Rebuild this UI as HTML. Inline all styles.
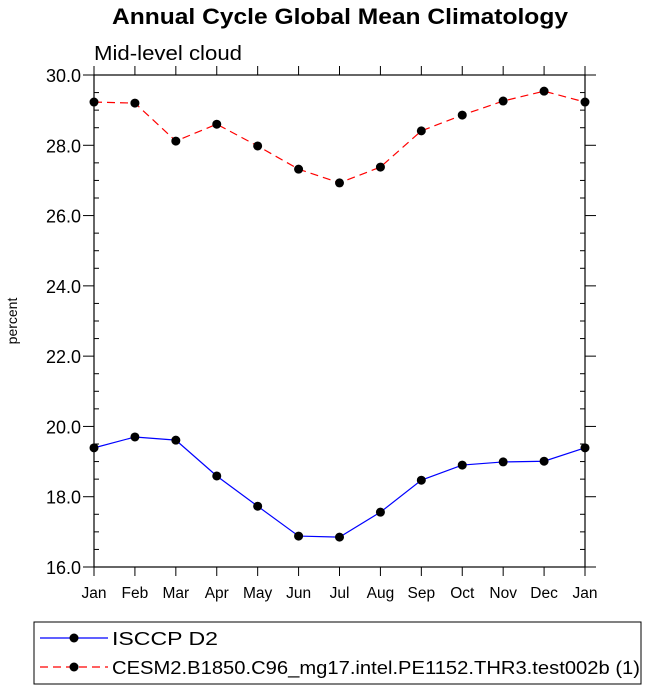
<!DOCTYPE html>
<html><head><meta charset="utf-8"><style>
body{margin:0;background:#fff;}
text{font-family:"Liberation Sans",sans-serif;}
</style></head><body>
<svg id="c" width="648" height="694" xmlns="http://www.w3.org/2000/svg">
<text x="112" y="24" textLength="456" lengthAdjust="spacingAndGlyphs" font-size="22" font-weight="bold">Annual Cycle Global Mean Climatology</text>
<text x="94" y="60" textLength="148" lengthAdjust="spacingAndGlyphs" font-size="20">Mid-level cloud</text>
<text transform="translate(17,321) rotate(-90)" text-anchor="middle" font-size="14">percent</text>
<g id="axes"></g><g id="series"></g>
<rect x="34" y="622" width="607" height="62" fill="none" stroke="#000" stroke-width="1"/>
<g>
<line x1="40" y1="638" x2="108" y2="638" stroke="#0000ff" stroke-width="1.2"/>
<circle cx="74" cy="638" r="4.5" fill="#000"/>
<text x="112" y="645" textLength="106" lengthAdjust="spacingAndGlyphs" font-size="18">ISCCP D2</text></g>
<g>
<line x1="40" y1="667" x2="108" y2="667" stroke="#ff0000" stroke-width="1.2" stroke-dasharray="8,5"/>
<circle cx="74" cy="667" r="4.5" fill="#000"/>
<text x="112" y="674" textLength="528" lengthAdjust="spacingAndGlyphs" font-size="18">CESM2.B1850.C96_mg17.intel.PE1152.THR3.test002b (1)</text></g>
</svg>
<script>
const months=["Jan","Feb","Mar","Apr","May","Jun","Jul","Aug","Sep","Oct","Nov","Dec","Jan"];
const isccp=[19.39,19.70,19.61,18.59,17.73,16.88,16.85,17.56,18.47,18.90,18.99,19.01,19.39];
const cesm=[29.23,29.20,28.12,28.60,27.98,27.32,26.93,27.38,28.41,28.86,29.26,29.54,29.23];
const yTicks=[16,18,20,22,24,26,28,30];
const L=94,R=585,T=75,B=567,ymin=16,ymax=30;
const xs=i=>L+(R-L)*i/12, ys=v=>B-(B-T)*(v-ymin)/(ymax-ymin);
const NS="http://www.w3.org/2000/svg";
function mk(t,a,p){const e=document.createElementNS(NS,t);for(const k in a)e.setAttribute(k,a[k]);p.appendChild(e);return e;}
const ax=document.getElementById('axes'), se=document.getElementById('series');
const fr=mk('rect',{x:L,y:T,width:R-L,height:B-T,fill:'none',stroke:'#000','stroke-width':1.2},ax);


for(let v=ymin;v<=ymax+1e-9;v+=0.5){const y=ys(v);const maj=Math.abs(v/2-Math.round(v/2))<1e-6;
 if(maj){mk('line',{x1:L-11,y1:y,x2:L,y2:y,stroke:'#000'},ax);mk('line',{x1:R,y1:y,x2:R+11,y2:y,stroke:'#000'},ax);}
 else{mk('line',{x1:L,y1:y,x2:L+5,y2:y,stroke:'#000'},ax);mk('line',{x1:R-5,y1:y,x2:R,y2:y,stroke:'#000'},ax);}}
yTicks.forEach(v=>{const t=mk('text',{x:L-13,y:ys(v)+7,'text-anchor':'end','font-size':18},ax);t.textContent=v.toFixed(1);
 
 });
months.forEach((m,i)=>{const x=xs(i);mk('line',{x1:x,y1:B,x2:x,y2:B+9,stroke:'#000'},ax);mk('line',{x1:x,y1:T-9,x2:x,y2:T,stroke:'#000'},ax);
 const t=mk('text',{x:x,y:B+31,'text-anchor':'middle','font-size':15.5},ax);t.textContent=m;
 
 });
function draw(d,col,dash,name){const p=mk('polyline',{points:d.map((v,i)=>xs(i)+','+ys(v)).join(' '),fill:'none',stroke:col,'stroke-width':1.2,'stroke-dasharray':dash},se);
 
 
 d.forEach((v,i)=>{const c=mk('circle',{cx:xs(i),cy:ys(v),r:4.5,fill:'#000'},se);
 
 });}
draw(isccp,'#0000ff','none','isccp');
draw(cesm,'#ff0000','8,5','cesm');
</script>
</body></html>
